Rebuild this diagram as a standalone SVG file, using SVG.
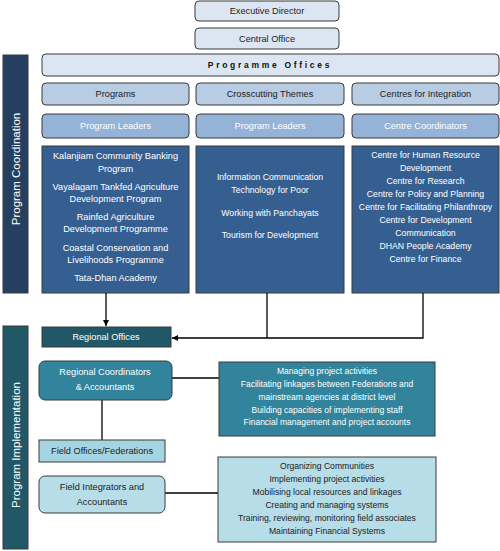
<svg xmlns="http://www.w3.org/2000/svg" width="500" height="551" viewBox="0 0 500 551">
<style>
text{font-family:"Liberation Sans",Arial,sans-serif;text-anchor:middle;dominant-baseline:central}
.bx{stroke:#3a3a3a;stroke-width:1}
.l1{fill:#dce6f2}
.l2{fill:#b8cce4}
.l3{fill:#95b3d7}
.db{fill:#365f91}
.dk{fill:#222;font-size:9.2px}
.wt{fill:#fff;font-size:9.2px}
.sm{fill:#fff;font-size:8.7px}
.sd{fill:#222;font-size:8.6px}
.con{stroke:#000;stroke-width:1.3;fill:none}
</style>
<defs>
<marker id="ah" viewBox="0 0 10 10" refX="10" refY="5" markerWidth="6" markerHeight="6" orient="auto" markerUnits="userSpaceOnUse">
<path d="M0,0 L10,5 L0,10 z" fill="#000"/>
</marker>
</defs>

<g id="bar-coordination">
<rect class="bx" x="3" y="55" width="25" height="238" fill="#243f60"/>
<text transform="translate(16,169) rotate(-90)" fill="#fff" style="font-size:11.5px">Program Coordination</text>
</g>
<g id="bar-implementation">
<rect class="bx" x="3" y="326" width="25" height="223" fill="#215868"/>
<text transform="translate(16,445) rotate(-90)" fill="#fff" style="font-size:11.5px">Program Implementation</text>
</g>

<g id="executive-director">
<rect class="bx l1" x="195" y="1" width="144" height="20" rx="4"/>
<text class="dk" x="267" y="11">Executive Director</text>
</g>
<g id="central-office">
<rect class="bx l1" x="195" y="28" width="144" height="21" rx="4"/>
<text class="dk" x="267" y="38.5">Central Office</text>
</g>
<g id="programme-offices">
<rect class="bx l1" x="42" y="54" width="457" height="22" rx="4"/>
<text x="270" y="65" fill="#111" style="font-size:8.5px;font-weight:bold;letter-spacing:2.7px">Programme Offices</text>
</g>

<g id="programs">
<rect class="bx l2" x="42" y="83" width="147" height="22" rx="4"/>
<text class="dk" x="115.5" y="94">Programs</text>
</g>
<g id="crosscutting">
<rect class="bx l2" x="196" y="83" width="148" height="22" rx="4"/>
<text class="dk" x="270" y="94">Crosscutting Themes</text>
</g>
<g id="centres-integration">
<rect class="bx l2" x="352" y="83" width="147" height="22" rx="4"/>
<text class="dk" x="425.5" y="94">Centres for Integration</text>
</g>

<g id="program-leaders-1">
<rect class="bx l3" x="42" y="114" width="147" height="24" rx="4"/>
<text class="wt" x="115.5" y="126">Program Leaders</text>
</g>
<g id="program-leaders-2">
<rect class="bx l3" x="196" y="114" width="148" height="24" rx="4"/>
<text class="wt" x="270" y="126">Program Leaders</text>
</g>
<g id="centre-coordinators">
<rect class="bx l3" x="352" y="114" width="147" height="24" rx="4"/>
<text class="wt" x="425.5" y="126">Centre Coordinators</text>
</g>

<g id="programs-list">
<rect class="bx db" x="42" y="146" width="147" height="147"/>
<text class="wt" x="115.5" y="156">Kalanjiam Community Banking</text>
<text class="wt" x="115.5" y="169">Program</text>
<text class="wt" x="115.5" y="187">Vayalagam Tankfed Agriculture</text>
<text class="wt" x="115.5" y="199">Development Program</text>
<text class="wt" x="115.5" y="217">Rainfed Agriculture</text>
<text class="wt" x="115.5" y="229">Development Programme</text>
<text class="wt" x="115.5" y="248">Coastal Conservation and</text>
<text class="wt" x="115.5" y="260">Livelihoods Programme</text>
<text class="wt" x="115.5" y="278">Tata-Dhan Academy</text>
</g>
<g id="themes-list">
<rect class="bx db" x="196" y="146" width="148" height="147"/>
<text class="sm" x="270" y="177">Information Communication</text>
<text class="sm" x="270" y="190">Technology for Poor</text>
<text class="sm" x="270" y="213">Working with Panchayats</text>
<text class="sm" x="270" y="235">Tourism for Development</text>
</g>
<g id="centres-list">
<rect class="bx db" x="352" y="146" width="147" height="147"/>
<text class="sm" x="425.5" y="155">Centre for Human Resource</text>
<text class="sm" x="425.5" y="168">Development</text>
<text class="sm" x="425.5" y="181">Centre for Research</text>
<text class="sm" x="425.5" y="194">Centre for Policy and Planning</text>
<text class="sm" x="425.5" y="207">Centre for Facilitating Philanthropy</text>
<text class="sm" x="425.5" y="220">Centre for Development</text>
<text class="sm" x="425.5" y="233">Communication</text>
<text class="sm" x="425.5" y="246">DHAN People Academy</text>
<text class="sm" x="425.5" y="259">Centre for Finance</text>
</g>

<g id="connectors">
<line class="con" x1="106" y1="293" x2="106" y2="326" marker-end="url(#ah)"/>
<polyline class="con" points="267,293 267,338"/>
<polyline class="con" points="423,293 423,338 172,338" marker-end="url(#ah)"/>
<line class="con" x1="172" y1="378" x2="219" y2="378"/>
<line class="con" x1="102" y1="400" x2="102" y2="440"/>
<line class="con" x1="165" y1="493" x2="218" y2="493"/>
</g>

<g id="regional-offices">
<rect class="bx" x="42" y="327" width="129" height="20" fill="#215868"/>
<text class="wt" x="106" y="337">Regional Offices</text>
</g>
<g id="regional-coordinators">
<rect class="bx" x="39" y="361" width="133" height="39" rx="6" fill="#31849b"/>
<text class="wt" x="105" y="372">Regional Coordinators</text>
<text class="wt" x="105" y="387">&amp; Accountants</text>
</g>
<g id="regional-roles">
<rect class="bx" x="219" y="362" width="216" height="74" fill="#31849b"/>
<text class="sm" x="327" y="371" style="font-size:8.5px">Managing project activities</text>
<text class="sm" x="327" y="384" style="font-size:8.5px">Facilitating linkages between Federations and</text>
<text class="sm" x="327" y="397" style="font-size:8.5px">mainstream agencies at district level</text>
<text class="sm" x="327" y="410" style="font-size:8.5px">Building capacities of implementing staff</text>
<text class="sm" x="327" y="422" style="font-size:8.5px">Financial management and project accounts</text>
</g>
<g id="field-offices">
<rect class="bx" x="39" y="440" width="126" height="22" fill="#a5d5e2"/>
<text class="dk" x="102" y="451">Field Offices/Federations</text>
</g>
<g id="field-integrators">
<rect class="bx" x="39" y="476" width="126" height="37" rx="6" fill="#b7dde8"/>
<text class="dk" x="102" y="487">Field Integrators and</text>
<text class="dk" x="102" y="502">Accountants</text>
</g>
<g id="field-roles">
<rect class="bx" x="218" y="457" width="218" height="85" fill="#b7dde8"/>
<text class="sd" x="327" y="466">Organizing Communities</text>
<text class="sd" x="327" y="479">Implementing project activities</text>
<text class="sd" x="327" y="492">Mobilising local resources and linkages</text>
<text class="sd" x="327" y="505">Creating and managing systems</text>
<text class="sd" x="327" y="518">Training, reviewing, monitoring field associates</text>
<text class="sd" x="327" y="531">Maintaining Financial Systems</text>
</g>
</svg>
